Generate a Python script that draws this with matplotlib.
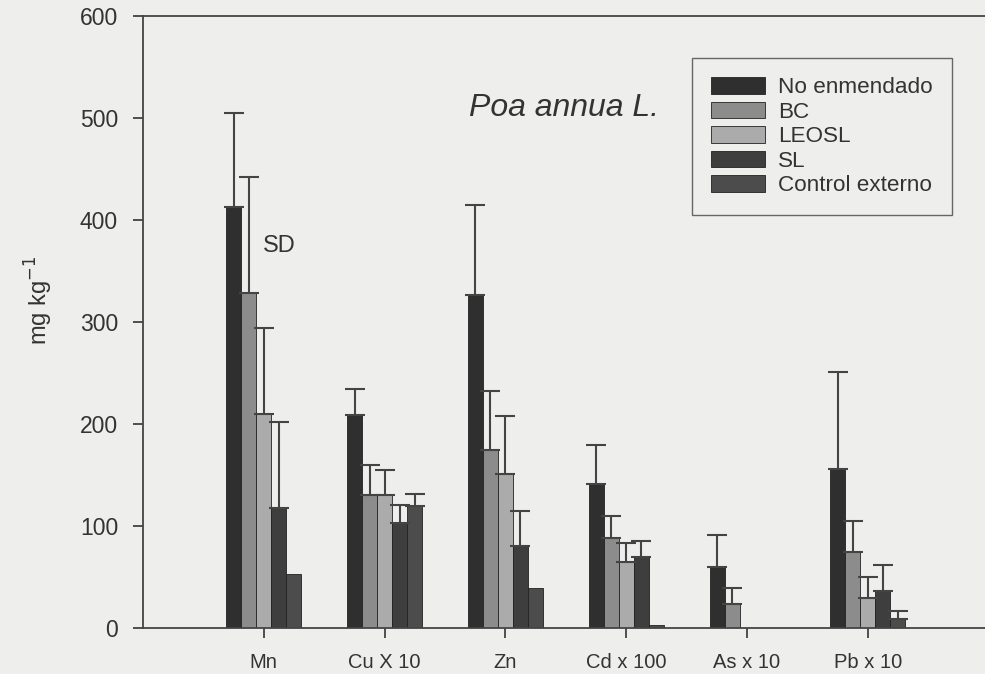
import matplotlib.pyplot as plt
import numpy as np

plt.rcParams["font.family"] = ["Liberation Sans", "DejaVu Sans"]

# metals (x axis) and treatments (legend)
metals = ["Mn", "Cu X 10", "Zn", "Cd x 100", "As x 10", "Pb x 10"]
treatments = ["No enmendado", "BC", "LEOSL", "SL", "Control externo"]

# mean values per treatment, mg kg-1 (scaled as labelled)
no_enmendado = [413, 209, 326, 141, 60, 156]
bc = [328, 130, 175, 88, 24, 75]
leosl = [210, 130, 151, 65, 0, 29]
sl = [118, 103, 80, 70, 0, 36]
control = [53, 120, 39, 3, 0, 9]

# top of SD bar (None = no bar drawn)
no_enmendado_sd = [505, 234, 415, 179, 91, 251]
bc_sd = [442, 160, 232, 110, 39, 105]
leosl_sd = [294, 155, 208, 83, None, 50]
sl_sd = [202, 121, 115, 85, None, 62]
control_sd = [None, 131, None, None, None, 17]

series = [no_enmendado, bc, leosl, sl, control]
series_sd = [no_enmendado_sd, bc_sd, leosl_sd, sl_sd, control_sd]
colors = ["#2f2f2f", "#8c8c8c", "#ababab", "#3e3e3e", "#4c4c4c"]

fig = plt.figure(figsize=(9.85, 6.74), dpi=100, facecolor="#eeeeec")
ax = fig.add_axes([143 / 985, 46 / 674, 1 - 143 / 985, 612 / 674])
ax.set_facecolor("#eeeeec")

x = np.arange(1, len(metals) + 1)
width = 0.124
for i, (vals, tops, c, lab) in enumerate(zip(series, series_sd, colors, treatments)):
    pos = x + (i - 2) * width
    ax.bar(pos, vals, width=width, color=c, edgecolor="#222222", linewidth=0.6, label=lab, zorder=2)
    for p, v, t in zip(pos, vals, tops):
        if t is None:
            continue
        ax.errorbar(p, v, yerr=[[0], [t - v]], fmt="none", ecolor="#444444",
                    elinewidth=1.5, capsize=7.5, capthick=1.5, zorder=3)

ax.set_xlim(0.0, 6.97)
ax.set_ylim(0, 600)
ax.set_yticks(range(0, 601, 100))
ax.set_xticks(x)
ax.set_xticklabels(metals)
ax.tick_params(axis="both", direction="out", length=7, width=1.2, colors="#333333",
               labelcolor="#333333")
ax.tick_params(axis="x", pad=11, labelsize=14.5)
ax.tick_params(axis="y", pad=11, labelsize=16.5)
for s in ["left", "bottom", "top"]:
    ax.spines[s].set_color("#444444")
    ax.spines[s].set_linewidth(1.3)
ax.spines["right"].set_visible(False)

ax.set_ylabel("mg kg$^{-1}$", fontsize=17, color="#333333")
ax.yaxis.set_label_coords(-0.105, 0.535)

ax.text(0.99, 375, "SD", fontsize=17, color="#333333", va="center")
ax.text(2.7, 510, "Poa annua L.", fontsize=23, style="italic", color="#333333", va="center")

leg = ax.legend(loc="upper right", bbox_to_anchor=(0.961, 0.931), fontsize=16.2,
                frameon=True, fancybox=False, edgecolor="#444444", facecolor="#eeeeec",
                handlelength=2.4, handleheight=0.75, handletextpad=0.6,
                labelspacing=0.15, borderpad=0.85, borderaxespad=0)
leg.get_frame().set_linewidth(1.0)
for t in leg.get_texts():
    t.set_color("#333333")

fig.savefig("out.png", dpi=100, facecolor=fig.get_facecolor())
